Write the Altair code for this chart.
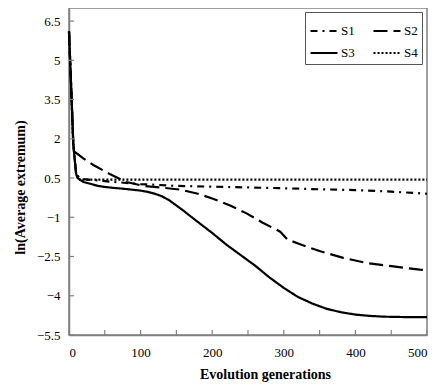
import altair as alt
import pandas as pd

# ---- data ----
s1_gen = [0, 3, 6, 10, 15, 20, 50, 100, 150, 200, 250, 300, 350, 400, 450, 500]
s1_val = [6.1, 4.0, 1.8, 0.65, 0.5, 0.46, 0.38, 0.27, 0.2, 0.17, 0.14, 0.11, 0.07, 0.04, -0.02, -0.1]

s2_gen = [0, 3, 6, 8, 20, 34, 57, 80, 104, 127, 155, 180, 201, 225, 248, 270, 295, 305,
          320, 337, 351, 383, 416, 453, 490, 500]
s2_val = [6.1, 4.0, 1.8, 1.5, 1.25, 1.0, 0.65, 0.35, 0.2, 0.14, 0.06, -0.1, -0.29, -0.55,
          -0.85, -1.2, -1.55, -1.85, -2.0, -2.17, -2.3, -2.55, -2.75, -2.88, -3.0, -3.02]

s3_gen = [0, 3, 6, 8, 10, 12, 20, 30, 40, 50, 60, 80, 100, 110, 120, 130, 140, 150, 160, 170,
          180, 200, 220, 240, 260, 280, 300, 320, 340, 360, 380, 400, 420, 440, 460, 480, 500]
s3_val = [6.1, 4.0, 1.8, 1.2, 0.65, 0.5, 0.35, 0.28, 0.2, 0.16, 0.13, 0.08, 0.02, -0.03, -0.1,
          -0.2, -0.35, -0.55, -0.75, -0.97, -1.18, -1.6, -2.05, -2.45, -2.85, -3.3, -3.7, -4.05,
          -4.3, -4.5, -4.63, -4.72, -4.77, -4.8, -4.81, -4.82, -4.82]

s4_gen = [0, 3, 6, 10, 15, 500]
s4_val = [6.1, 4.0, 1.8, 0.65, 0.44, 0.44]

series_names = ["S1", "S2", "S3", "S4"]
legend_order = ["S1", "S3", "S2", "S4"]   # column-major fill -> rows S1 S2 / S3 S4
dash_styles = {"S1": [7, 5, 2, 5], "S2": [14, 6], "S3": [1, 0], "S4": [2, 2]}
x_ticks = [0, 50, 100, 150, 200, 250, 300, 350, 400, 450, 500]
x_labels = [0, 100, 200, 300, 400, 500]
y_ticks = [-5.5, -4, -2.5, -1, 0.5, 2, 3.5, 5, 6.5]

rows = []
for name, g, v in zip(series_names, [s1_gen, s2_gen, s3_gen, s4_gen],
                      [s1_val, s2_val, s3_val, s4_val]):
    for a, b in zip(g, v):
        rows.append({"series": name, "gen": a, "val": b})
df = pd.DataFrame(rows)

W, H = 358, 327
FONT = "Liberation Serif"
GRAY = "#808080"

xscale = alt.Scale(domain=[0, 500], nice=False, zero=False)
yscale = alt.Scale(domain=[-5.5, 7], nice=False, zero=False)

xaxis = alt.Axis(values=x_labels, title="Evolution generations", grid=False, format="d",
                 ticks=False, labelPadding=11, labelFontSize=13, labelFont=FONT,
                 labelColor="black", domainColor=GRAY, domainWidth=1.5,
                 titleFont=FONT, titleFontSize=14, titleFontWeight="bold",
                 titleColor="black", titleX=196, titleY=43,
                 titleBaseline="alphabetic")
yaxis = alt.Axis(values=y_ticks, title="ln(Average extremum)", grid=False, format=".1~f",
                 ticks=False, labelPadding=9, labelFontSize=13, labelFont=FONT,
                 labelColor="black", domainColor=GRAY, domainWidth=1.5,
                 titleFont=FONT, titleFontSize=14, titleFontWeight="bold",
                 titleColor="black", titleX=-42, titleY=179,
                 titleBaseline="bottom", titleAngle=270)

lines = alt.Chart(df).mark_line(strokeWidth=2.2, color="black").encode(
    x=alt.X("gen:Q", scale=xscale, axis=xaxis),
    y=alt.Y("val:Q", scale=yscale, axis=yaxis),
    strokeDash=alt.StrokeDash(
        "series:N",
        scale=alt.Scale(domain=legend_order,
                        range=[dash_styles[s] for s in legend_order]),
        legend=alt.Legend(title=None, orient="none", legendX=236, legendY=4, columns=2,
                          symbolType="stroke", symbolSize=729, symbolStrokeWidth=2.2,
                          symbolStrokeColor="black", labelFont=FONT, labelFontSize=13,
                          labelColor="black", labelOffset=2, columnPadding=14,
                          rowPadding=0, padding=4, strokeColor="#555555",
                          fillColor="white")),
)

xt = alt.Chart(pd.DataFrame({"gen": x_ticks})).mark_rule(color=GRAY, strokeWidth=1.2).encode(
    x=alt.X("gen:Q", scale=xscale, axis=xaxis), y=alt.value(H), y2=alt.value(H - 5))
yt = alt.Chart(pd.DataFrame({"val": y_ticks})).mark_rule(color=GRAY, strokeWidth=1.2).encode(
    y=alt.Y("val:Q", scale=yscale, axis=yaxis), x=alt.value(0), x2=alt.value(5))

chart = alt.layer(lines, xt, yt).properties(
    width=W, height=H,
    autosize=alt.AutoSizeParams(type="none"),
    padding={"left": 61, "top": 0, "right": 4, "bottom": 47},
    background="white",
).configure_view(stroke=GRAY, strokeWidth=1.5)

chart.save("out.html", embed_options={"renderer": "svg", "actions": False})
